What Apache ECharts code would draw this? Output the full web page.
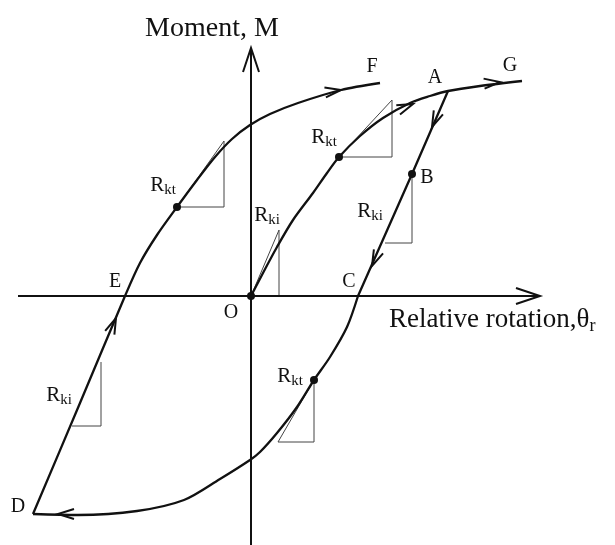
<!DOCTYPE html>
<html>
<head>
<meta charset="utf-8">
<script src="https://cdn.jsdelivr.net/npm/echarts@6/dist/echarts.min.js"></script>
<style>
  html, body { margin: 0; padding: 0; background: #fff; }
  #chart { width: 615px; height: 545px; }
</style>
</head>
<body>
<div id="chart"></div>
<script>
// rotation (theta) and moment (M) readings, origin at O
const upperTheta = [-218, -171, -126, -111, -94, -74, -54, -36, -19, -1, 19, 47, 90, 129];
const upperM = [-218, -107, 0, 33, 61, 89, 116, 139, 157, 171, 182, 193, 206, 213];

const loadTheta = [0, 12, 26, 42, 62, 76, 88, 109, 132, 159, 179, 197, 229, 271];
const loadM = [0, 23, 49, 76, 103, 123, 139, 160, 178, 193, 200, 205, 210, 215];

const unloadTheta = [197, 161, 107];
const unloadM = [205, 122, 0];

const lowerTheta = [107, 96, 79, 63, 46, 26, 9, -1, -31, -67, -114, -173, -218];
const lowerM = [0, -31, -61, -84, -111, -137, -156, -164, -183, -204, -215, -219, -218];

const axisX = [[-233, 0], [289, 0]];
const axisY = [[0, 248], [0, -249]];

// slope triangles
const triangles = [
  [[-179, -130], [-150, -130], [-150, -66]],
  [[-74, 89], [-27, 89], [-27, 155], [-74, 89]],
  [[0, 0], [28, 0], [28, 66], [0, 0]],
  [[88, 139], [141, 139], [141, 196], [88, 139]],
  [[161, 122], [161, 53], [134, 53]],
  [[63, -84], [63, -146], [27, -146], [63, -84]]
];

const dots = [[0, 0], [161, 122], [-74, 89], [88, 139], [63, -84]];

// arrow heads: theta, M, direction theta, direction M, axis flag
const arrows = [
  [289, 0, 1, 0, 1],
  [0, 248, 0, 1, 1],
  [90, 206, 1, 0.15, 0],
  [162, 192, 1, 0.4, 0],
  [249, 214, 1, 0.1, 0],
  [181, 169, -36, -83, 0],
  [121, 30, -54, -122, 0],
  [-135, -22, 92, 218, 0],
  [-193, -218, -1, 0, 0]
];

const letterLabels = [
  ['F', 121, 229], ['G', 259, 230], ['A', 184, 218], ['B', 176, 118],
  ['C', 98, 14], ['D', -233, -211], ['E', -136, 14], ['O', -20, -17]
];
const slopeLabels = [
  ['kt', -88, 110], ['kt', 73, 158], ['kt', 39, -81],
  ['ki', 16, 80], ['ki', 119, 84], ['ki', -192, -100]
];

const zip = (a, b) => a.map((v, i) => [v, b[i]]);
const ink = '#111';
const serif = 'Liberation Serif';

function curve(data, smooth) {
  return {
    type: 'line', data: data, smooth: smooth, showSymbol: false, silent: true,
    lineStyle: { color: ink, width: 2.3 }, z: 3
  };
}

function textSeries(data, label) {
  return {
    type: 'scatter', symbolSize: 0, z: 6, silent: true,
    itemStyle: { opacity: 1 },
    data: data, label: Object.assign({ show: true }, label)
  };
}

const chart = echarts.init(document.getElementById('chart'));
const option = {
  animation: false,
  grid: { left: 0, right: 0, top: 0, bottom: 0 },
  xAxis: { type: 'value', min: -251, max: 364, show: false },
  yAxis: { type: 'value', min: -249, max: 296, show: false },
  series: [
    { type: 'line', data: axisX, showSymbol: false, silent: true, lineStyle: { color: ink, width: 2 } },
    { type: 'line', data: axisY, showSymbol: false, silent: true, lineStyle: { color: ink, width: 2 } },
    curve(zip(upperTheta, upperM), 0.3),
    curve(zip(loadTheta, loadM), 0.3),
    curve(zip(unloadTheta, unloadM), false),
    curve(zip(lowerTheta, lowerM), 0.3),
    {
      type: 'custom', silent: true,
      data: triangles.map((t, i) => [i]),
      renderItem: (params, api) => {
        const pts = triangles[params.dataIndex].map(p => api.coord(p));
        return { type: 'polyline', shape: { points: pts }, style: { stroke: '#444', lineWidth: 1, fill: null } };
      },
      z: 2
    },
    {
      type: 'custom', silent: true,
      data: arrows,
      renderItem: (params, api) => {
        const a = arrows[params.dataIndex];
        const tip = api.coord([a[0], a[1]]);
        const ref = api.coord([a[0] + a[2], a[1] + a[3]]);
        let dx = ref[0] - tip[0], dy = ref[1] - tip[1];
        const len = Math.hypot(dx, dy);
        dx /= len; dy /= len;
        const L = a[4] ? 24 : 16, W = a[4] ? 8 : 5;
        const bx = tip[0] - dx * L, by = tip[1] - dy * L;
        return {
          type: 'polyline',
          shape: { points: [[bx - dy * W, by + dx * W], tip, [bx + dy * W, by - dx * W]] },
          style: { stroke: ink, lineWidth: 2, fill: null }
        };
      },
      z: 4
    },
    {
      type: 'scatter', data: dots, symbolSize: 8, silent: true,
      itemStyle: { color: ink, opacity: 1 }, z: 5
    },
    textSeries(letterLabels.map(l => ({ name: l[0], value: [l[1], l[2]] })), {
      position: 'inside', formatter: '{b}', fontFamily: serif, fontSize: 20, color: ink
    }),
    textSeries(slopeLabels.map(l => ({ name: l[0], value: [l[1], l[2]] })), {
      position: 'inside', formatter: p => '{r|R}{s|' + p.name + '}',
      rich: {
        r: { fontFamily: serif, fontSize: 21, color: ink, verticalAlign: 'top', lineHeight: 22 },
        s: { fontFamily: serif, fontSize: 15, color: ink, verticalAlign: 'top', padding: [8, 0, 0, 0] }
      }
    }),
    textSeries([{ name: 'Moment, M', value: [-39, 267] }], {
      position: 'inside', formatter: '{b}', fontFamily: serif, fontSize: 28, color: ink
    }),
    textSeries([{ name: 'Relative rotation,', value: [138, -25] }], {
      position: 'right', distance: 0,
      formatter: '{t|Relative rotation,θ}{s|r}',
      rich: {
        t: { fontFamily: serif, fontSize: 27, color: ink, verticalAlign: 'top', lineHeight: 28 },
        s: { fontFamily: serif, fontSize: 18, color: ink, verticalAlign: 'top', padding: [11, 0, 0, 0] }
      }
    })
  ]
};
chart.setOption(option);
window.addEventListener('resize', () => chart.resize());
</script>
</body>
</html>
